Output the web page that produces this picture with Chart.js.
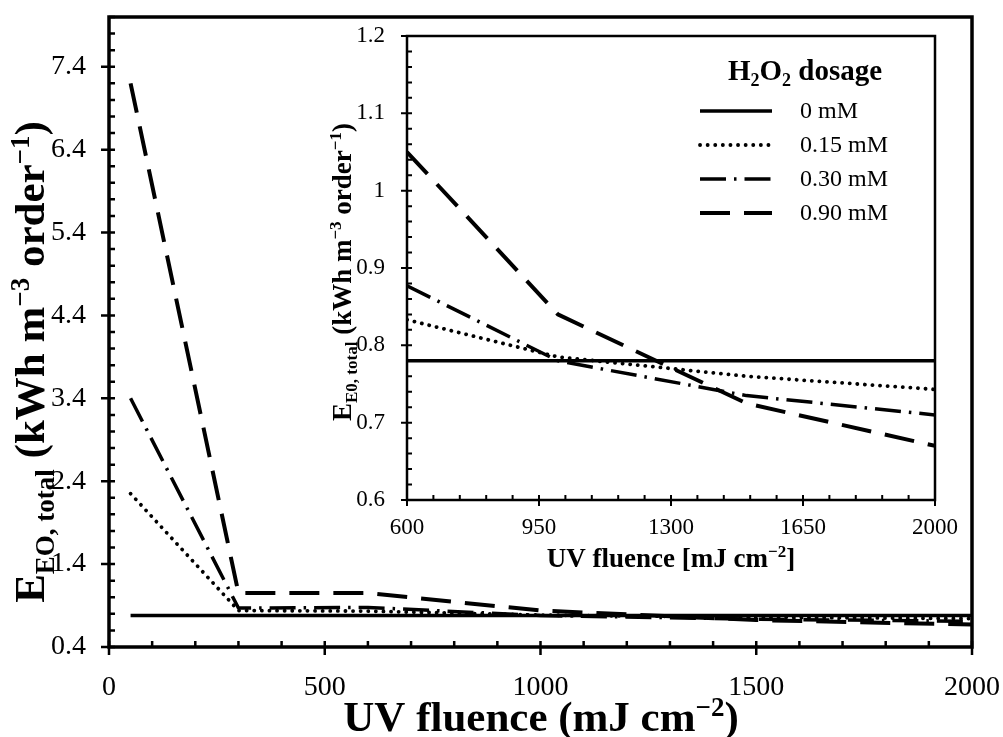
<!DOCTYPE html>
<html>
<head>
<meta charset="utf-8">
<script src="https://cdn.jsdelivr.net/npm/chart.js@4.4.0/dist/chart.umd.min.js"></script>
<style>
  html, body { margin: 0; padding: 0; background: #fff; }
  #wrap { position: relative; width: 1003px; height: 737px; }
  #main { position: absolute; left: 0; top: 0; }
  #inset { position: absolute; left: 300px; top: 0; }
</style>
</head>
<body>
<div id="wrap">
  <canvas id="main" width="1003" height="737"></canvas>
  <canvas id="inset" width="680" height="590"></canvas>
</div>
<script>
// UV fluence (mJ cm-2) and total electrical energy per order for each H2O2 dose
const fluence = [50, 300, 600, 1000, 1500, 2000];
const dose0mM = [0.78, 0.78, 0.78, 0.78, 0.78, 0.78];
const dose015mM = [2.25, 0.84, 0.833, 0.785, 0.76, 0.743];
const dose030mM = [3.4, 0.87, 0.877, 0.78, 0.735, 0.71];
const dose090mM = [7.2, 1.05, 1.05, 0.84, 0.725, 0.67];
const seriesNames = ['0 mM', '0.15 mM', '0.30 mM', '0.90 mM'];

const mainXTicks = [0, 500, 1000, 1500, 2000];
const mainYTicks = [0.4, 1.4, 2.4, 3.4, 4.4, 5.4, 6.4, 7.4];
const insetXTicks = [600, 950, 1300, 1650, 2000];
const insetYTicks = [0.6, 0.7, 0.8, 0.9, 1, 1.1, 1.2];

const FONT = 'Liberation Serif';
const seriesValues = [dose0mM, dose015mM, dose030mM, dose090mM];
const lineStyles = [
  { borderDash: [], borderWidth: 3.5 },
  { borderDash: [0.1, 7.5], borderWidth: 3.8, borderCapStyle: 'round' },
  { borderDash: [26, 8, 2.5, 8], borderWidth: 3.5 },
  { borderDash: [30, 14], borderWidth: 4 }
];

// fromX lets the zoomed panel start its lines at its own left edge
function makeDatasets(fromX) {
  return seriesNames.map((name, i) => Object.assign({
    label: name,
    data: fluence.map((x, j) => ({ x: x, y: seriesValues[i][j] })).filter(p => p.x >= fromX),
    borderColor: '#000',
    backgroundColor: '#000',
    pointRadius: 0,
    tension: 0,
    fill: false,
    borderCapStyle: 'butt',
    borderJoinStyle: 'round'
  }, lineStyles[i]));
}

// text with sub/superscript pieces, centred on (cx, cy)
function drawRich(ctx, parts, cx, cy, size, weight, angle) {
  const fontFor = p => weight + ' ' + ((p.sub || p.sup) ? Math.round(size * 0.62) : size) + 'px "' + FONT + '"';
  const widths = parts.map(p => { ctx.font = fontFor(p); return ctx.measureText(p.t).width; });
  const total = widths.reduce((a, b) => a + b, 0);
  ctx.save();
  ctx.translate(cx, cy);
  ctx.rotate(angle || 0);
  ctx.fillStyle = '#000';
  ctx.textBaseline = 'alphabetic';
  let x = -total / 2;
  const base = size * 0.33;
  parts.forEach((p, i) => {
    ctx.font = fontFor(p);
    const dy = p.sub ? size * 0.22 : p.sup ? -size * 0.36 : 0;
    ctx.fillText(p.t, x, base + dy);
    x += widths[i];
  });
  ctx.restore();
}

// box frame plus major (crossing) and minor (inward) tick marks
const axesFrame = {
  id: 'axesFrame',
  afterDatasetsDraw(chart, args, o) {
    const ctx = chart.ctx;
    const a = chart.chartArea;
    const x = chart.scales.x, y = chart.scales.y;
    ctx.save();
    ctx.strokeStyle = '#000';
    ctx.lineWidth = o.tickWidth;
    ctx.beginPath();
    for (let v = x.min; v <= x.max + 1e-6; v += o.xMinor) {
      const px = x.getPixelForValue(v);
      ctx.moveTo(px, a.bottom);
      ctx.lineTo(px, a.bottom - o.minorLen);
    }
    for (let v = y.min; v <= y.max + 1e-6; v += o.yMinor) {
      const py = y.getPixelForValue(v);
      ctx.moveTo(a.left, py);
      ctx.lineTo(a.left + o.minorLen, py);
    }
    x.ticks.forEach(t => {
      const px = x.getPixelForValue(t.value);
      ctx.moveTo(px, a.bottom + o.majorOut);
      ctx.lineTo(px, a.bottom - o.majorIn);
    });
    y.ticks.forEach(t => {
      const py = y.getPixelForValue(t.value);
      ctx.moveTo(a.left - o.majorOut, py);
      ctx.lineTo(a.left + o.majorIn, py);
    });
    ctx.stroke();
    ctx.lineWidth = o.frameWidth;
    ctx.strokeRect(a.left, a.top, a.right - a.left, a.bottom - a.top);
    ctx.restore();
  }
};

const axisTitles = {
  id: 'axisTitles',
  afterDraw(chart, args, o) {
    const ctx = chart.ctx;
    drawRich(ctx, o.x.parts, o.x.cx, o.x.cy, o.size, 'bold', 0);
    drawRich(ctx, o.y.parts, o.y.cx, o.y.cy, o.size, 'bold', -Math.PI / 2);
  }
};

const dosageLegend = {
  id: 'dosageLegend',
  afterDraw(chart, args, o) {
    if (!o.show) return;
    const ctx = chart.ctx;
    drawRich(ctx, o.title, o.titleX, o.titleY, o.titleSize, 'bold', 0);
    chart.data.datasets.forEach((ds, i) => {
      const yy = o.top + i * o.rowGap;
      ctx.save();
      ctx.strokeStyle = ds.borderColor;
      ctx.lineWidth = ds.borderWidth;
      ctx.lineCap = ds.borderCapStyle || 'butt';
      ctx.setLineDash(ds.borderDash);
      ctx.beginPath();
      ctx.moveTo(o.lineX, yy);
      ctx.lineTo(o.lineX + o.lineLen, yy);
      ctx.stroke();
      ctx.restore();
      ctx.save();
      ctx.fillStyle = '#000';
      ctx.font = o.size + 'px "' + FONT + '"';
      ctx.textBaseline = 'middle';
      ctx.fillText(ds.label, o.textX, yy + 1);
      ctx.restore();
    });
  }
};

function scaleOpts(min, max, tickList, fontSize, pad, size, vertical) {
  return {
    type: 'linear',
    min: min,
    max: max,
    afterBuildTicks: s => { s.ticks = tickList.map(v => ({ value: v })); },
    afterFit: s => {
      if (vertical) s.width = size; else s.height = size;
      s.paddingLeft = s.paddingRight = s.paddingTop = s.paddingBottom = 0;
    },
    grid: { display: false },
    border: { display: false },
    ticks: {
      color: '#000',
      font: { family: FONT, size: fontSize },
      padding: pad,
      autoSkip: false,
      maxRotation: 0,
      callback: v => String(v)
    }
  };
}

Chart.defaults.animation = false;

new Chart(document.getElementById('main'), {
  type: 'line',
  data: { datasets: makeDatasets(0) },
  options: {
    responsive: false,
    devicePixelRatio: 1,
    layout: { padding: { left: 0, top: 17, right: 31, bottom: 0 } },
    scales: {
      x: scaleOpts(0, 2000, mainXTicks, 28, 16, 90, false),
      y: scaleOpts(0.4, 8.0, mainYTicks, 28, 15, 109, true)
    },
    plugins: {
      legend: { display: false },
      tooltip: { enabled: false },
      axesFrame: { frameWidth: 3.5, tickWidth: 2.5, xMinor: 100, yMinor: 0.2, minorLen: 6, majorOut: 8, majorIn: 6 },
      axisTitles: {
        size: 43,
        x: { cx: 541, cy: 717, parts: [{ t: 'UV fluence (mJ cm' }, { t: '\u22122', sup: true }, { t: ')' }] },
        y: { cx: 30, cy: 362, parts: [{ t: 'E' }, { t: 'EO, total', sub: true }, { t: ' (kWh m' }, { t: '\u22123', sup: true }, { t: ' order' }, { t: '\u22121', sup: true }, { t: ')' }] }
      },
      dosageLegend: { show: false }
    }
  },
  plugins: [axesFrame, axisTitles, dosageLegend]
});

new Chart(document.getElementById('inset'), {
  type: 'line',
  data: { datasets: makeDatasets(600) },
  options: {
    responsive: false,
    devicePixelRatio: 1,
    layout: { padding: { left: 0, top: 36, right: 45, bottom: 0 } },
    scales: {
      x: scaleOpts(600, 2000, insetXTicks, 23, 6, 90, false),
      y: scaleOpts(0.6, 1.2, insetYTicks, 23, 14, 107, true)
    },
    plugins: {
      legend: { display: false },
      tooltip: { enabled: false },
      axesFrame: { frameWidth: 2.5, tickWidth: 2, xMinor: 70, yMinor: 0.02, minorLen: 5, majorOut: 6, majorIn: 5 },
      axisTitles: {
        size: 27,
        x: { cx: 371, cy: 558, parts: [{ t: 'UV fluence [mJ cm' }, { t: '\u22122', sup: true }, { t: ']' }] },
        y: { cx: 42, cy: 272, parts: [{ t: 'E' }, { t: 'E0, total', sub: true }, { t: ' (kWh m' }, { t: '\u22123', sup: true }, { t: ' order' }, { t: '\u22121', sup: true }, { t: ')' }] }
      },
      dosageLegend: {
        show: true,
        titleSize: 29, titleX: 505, titleY: 70,
        title: [{ t: 'H' }, { t: '2', sub: true }, { t: 'O' }, { t: '2', sub: true }, { t: ' dosage' }],
        size: 24, top: 111, rowGap: 34, lineX: 400, lineLen: 72, textX: 500
      }
    }
  },
  plugins: [axesFrame, axisTitles, dosageLegend]
});
</script>
</body>
</html>
